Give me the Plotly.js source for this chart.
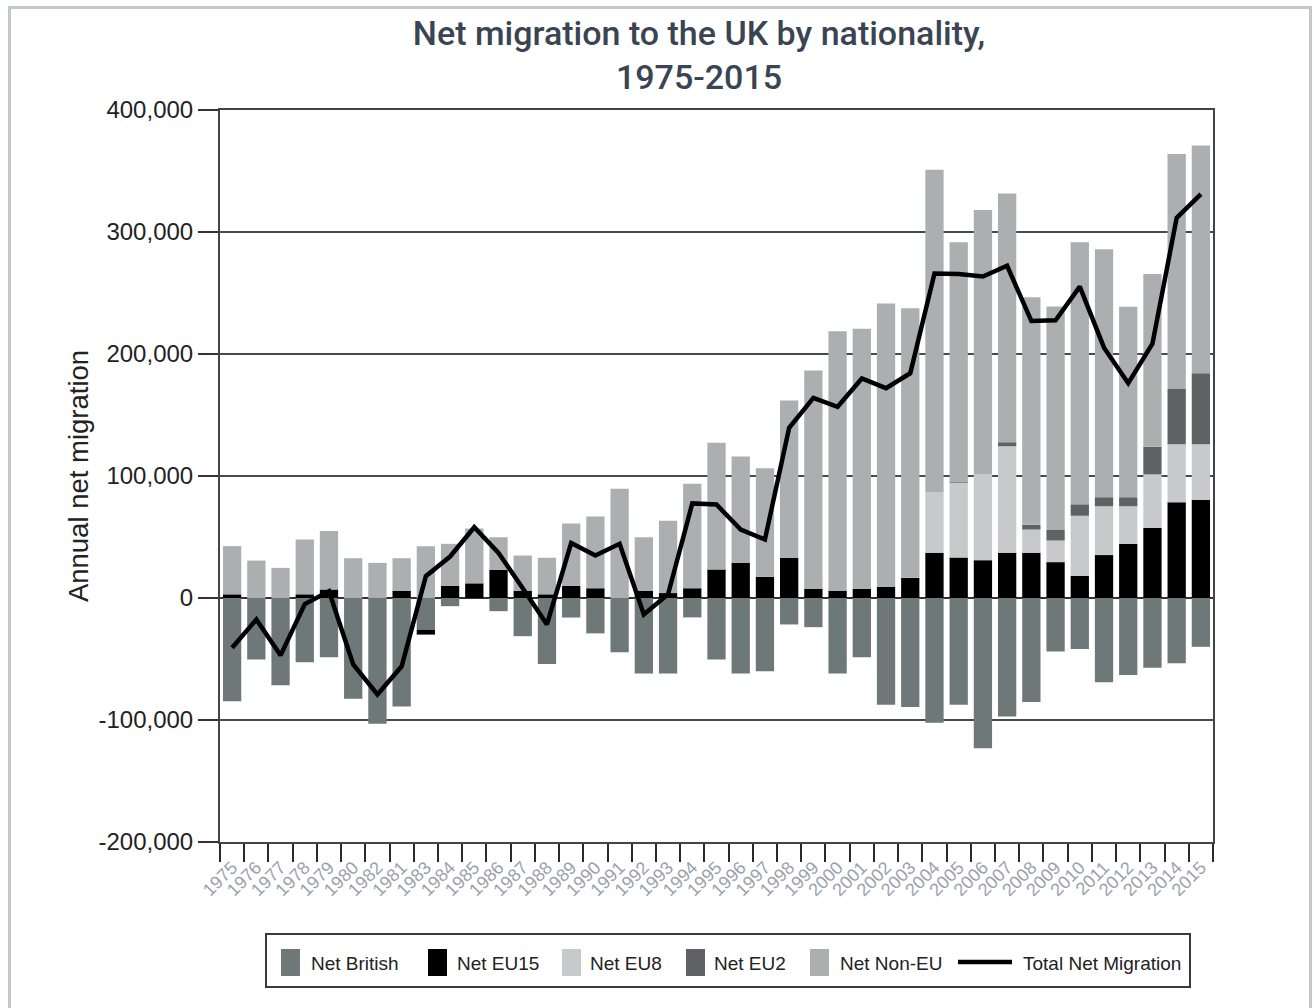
<!DOCTYPE html>
<html>
<head>
<meta charset="utf-8">
<script src="https://cdn.plot.ly/plotly-3.0.1.min.js"></script>
<style>
  html, body { margin: 0; padding: 0; background: #fff; }
  #wrap { position: relative; width: 1314px; height: 1008px; overflow: hidden; }
  #chart { position: absolute; left: 0; top: 0; width: 1314px; height: 1008px; }
  #frame { position: absolute; left: 8px; top: 6px; width: 1298px; height: 1010px;
           border: 3px solid #c3c8c8; pointer-events: none; }
</style>
</head>
<body>
<div id="wrap">
  <div id="chart"></div>
  <div id="frame"></div>
</div>
<script>
const years = ["1975","1976","1977","1978","1979","1980","1982","1981","1983","1984","1985","1986","1987","1988","1989","1990","1991","1992","1993","1994","1995","1996","1997","1998","1999","2000","2001","2002","2003","2004","2005","2006","2007","2008","2009","2010","2011","2012","2013","2014","2015"];

const netBritish = [-84600,-50400,-71500,-52600,-48500,-82600,-103000,-89000,-26000,-6700,0,-10800,-31300,-54000,-16000,-29000,-44400,-61900,-61900,-15900,-50400,-61900,-60000,-21700,-23900,-61900,-48500,-87400,-89400,-102300,-87400,-123200,-97100,-85200,-43900,-41900,-69000,-63200,-57100,-53500,-40000];

const netEU15 = [3000,0,0,3000,7000,0,0,6000,-4000,10000,12000,23000,6000,3000,10000,8000,0,6000,4000,8000,23400,28900,17400,33000,7600,6000,7600,9000,16500,37100,33200,31000,37100,37100,29400,18100,35200,44500,57400,78400,80600];

const netEU8 = [0,0,0,0,0,0,0,0,0,0,0,0,0,0,0,0,0,0,0,0,0,0,0,0,0,0,0,0,0,49400,61300,70300,87400,19000,17700,49300,40000,30700,43900,47700,45500];

const netEU2 = [0,0,0,0,0,0,0,0,0,0,0,0,0,0,0,0,0,0,0,0,0,0,0,0,0,0,0,0,0,0,1000,0,3200,3900,8700,9400,7400,7400,22600,45200,58100];

const netNonEU = [39500,30700,24700,45000,48000,32600,28800,26600,42500,34400,45000,26800,28800,30000,51000,58800,89500,43800,59300,85600,103800,87100,89000,128900,178900,212700,213000,232300,220900,264500,196100,216700,203900,186500,183200,214800,203200,156100,141600,192600,186800];

const totalNet = [-40800,-17600,-47000,-5000,5600,-54500,-79000,-56000,17900,34000,58000,37000,8000,-21700,45000,34800,44400,-13500,3000,77500,76600,56000,48000,139500,164000,156700,179900,172000,184200,266000,265500,263500,272300,227100,227700,255200,205200,176100,208400,311600,331000];

const yTickVals = [-200000,-100000,0,100000,200000,300000,400000];
const yTickText = ["-200,000","-100,000","0","100,000","200,000","300,000","400,000"];

const seriesNames = ["Net British","Net EU15","Net EU8","Net EU2","Net Non-EU","Total Net Migration"];
const seriesColors = ["#6e7878","#000000","#c8c9cb","#606163","#abafb0","#000000"];
const barSeries = [netBritish, netEU15, netEU8, netEU2, netNonEU];

const traces = barSeries.map((vals, i) => ({
  type: "bar",
  name: seriesNames[i],
  x: years,
  y: vals,
  marker: { color: seriesColors[i], line: { width: 0 } },
  showlegend: false
}));
traces.push({
  type: "scatter",
  mode: "lines",
  name: seriesNames[5],
  x: years,
  y: totalNet,
  line: { color: "#000", width: 4.5 },
  showlegend: false
});

// plot area in pixels: x 220..1213, y 110..842
const L = 220, R = 1213, T = 110, B = 842;
const px = x => (x - L) / (R - L);
const py = y => (B - y) / (B - T);

const FONT = "Liberation Sans, Arial, sans-serif";
const shapes = [];
const annotations = [];
// legend box
shapes.push({ type: "rect", xref: "paper", yref: "paper",
  x0: px(266), x1: px(1190), y0: py(987), y1: py(934),
  line: { color: "#3a3a3a", width: 2 }, fillcolor: "rgba(0,0,0,0)" });
const swatchX = [281, 428, 562, 686, 810];
const textX = [309, 455, 588, 712, 838, 1021];
for (let i = 0; i < 5; i++) {
  shapes.push({ type: "rect", xref: "paper", yref: "paper",
    x0: px(swatchX[i]), x1: px(swatchX[i] + 19), y0: py(976), y1: py(949),
    line: { width: 0 }, fillcolor: seriesColors[i] });
}
shapes.push({ type: "line", xref: "paper", yref: "paper",
  x0: px(958), x1: px(1012), y0: py(962), y1: py(962),
  line: { color: "#000", width: 4.5 } });
for (let i = 0; i < 6; i++) {
  annotations.push({ xref: "paper", yref: "paper", x: px(textX[i]), y: py(963),
    xanchor: "left", yanchor: "middle", showarrow: false, text: seriesNames[i],
    font: { family: FONT, size: 19, color: "#222" } });
}

const layout = {
  width: 1314, height: 1008,
  margin: { l: L, r: 1314 - R, t: T, b: 1008 - B },
  paper_bgcolor: "#fff", plot_bgcolor: "#fff",
  barmode: "relative",
  bargap: 0.245,
  showlegend: false,
  title: {
    text: "Net migration to the UK by nationality,<br>1975-2015",
    font: { family: "Roboto, Liberation Sans, Arial, sans-serif", size: 34, weight: 500, color: "#3a4452" },
    x: px(699), xref: "paper", xanchor: "center",
    y: 1 - 45 / 1008, yref: "container", yanchor: "middle"
  },
  xaxis: {
    type: "category",
    categoryorder: "array",
    categoryarray: years,
    tickson: "boundaries",
    ticks: "outside", ticklen: 18, tickwidth: 2, tickcolor: "#2a2a2a",
    tickangle: -45,
    ticklabelstandoff: 6,
    tickfont: { family: FONT, size: 18, color: "#9aa1ab" },
    showline: true, linecolor: "#444", linewidth: 2, mirror: true,
    showgrid: false, zeroline: false, fixedrange: true
  },
  yaxis: {
    range: [-200000, 400000],
    tickvals: yTickVals, ticktext: yTickText,
    ticks: "outside", ticklen: 20, tickwidth: 2, tickcolor: "#333",
    tickfont: { family: FONT, size: 24, color: "#222" },
    showline: true, linecolor: "#444", linewidth: 2, mirror: true,
    showgrid: true, gridcolor: "#4a4a4a", gridwidth: 2,
    zeroline: true, zerolinecolor: "#333", zerolinewidth: 2,
    title: { text: "Annual net migration", standoff: 2,
      font: { family: FONT, size: 27.5, color: "#222" } },
    automargin: false, fixedrange: true
  },
  shapes: shapes,
  annotations: annotations
};

Plotly.newPlot("chart", traces, layout, { displayModeBar: false, staticPlot: true });
</script>
</body>
</html>
